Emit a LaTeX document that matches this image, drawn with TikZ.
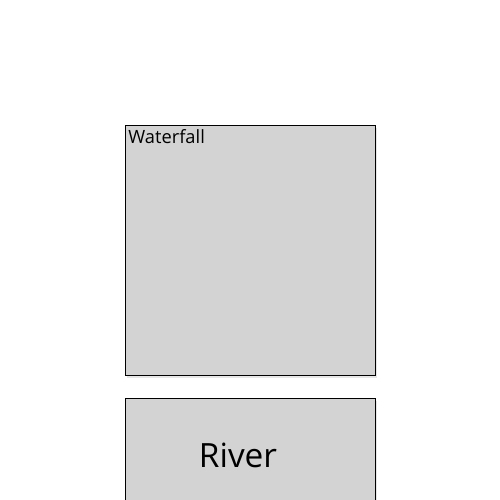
\documentclass[tikz,border=0pt]{standalone}
\usepackage{fontspec}
\setmainfont{Open Sans}
\usetikzlibrary{shadows}
\begin{document}
\begin{tikzpicture}
[boxdecorate/.style={shape=rectangle,draw=black,fill={rgb,255:red,211;green,211;blue,211},
   line width=0.5pt,inner sep=0pt,
   drop shadow={opacity=0.2,shadow xshift=0.04cm,shadow yshift=-0.06cm}},%
  labeldecorate/.style={inner sep=0pt,text=black}]
\useasboundingbox (0,0) rectangle (10,10);
\clip (0,0) rectangle (10,10);
%% boxes
\node (waterfall) at (5,5) [boxdecorate,minimum width=5cm,minimum height=5cm] {};
\node (river) at (5,0.54) [boxdecorate,minimum width=5cm,minimum height=3cm] {};
%% texts
\node (waterfalltext) [labeldecorate,anchor=north west,font=\fontsize{10.4}{12}\selectfont]
  at ([xshift=0.07cm,yshift=-0.09cm]waterfall.north west) {Waterfall};
\node (rivertext) at (4.76,0.9) [labeldecorate,font=\fontsize{19}{23}\selectfont] {River};
\end{tikzpicture}
\end{document}
